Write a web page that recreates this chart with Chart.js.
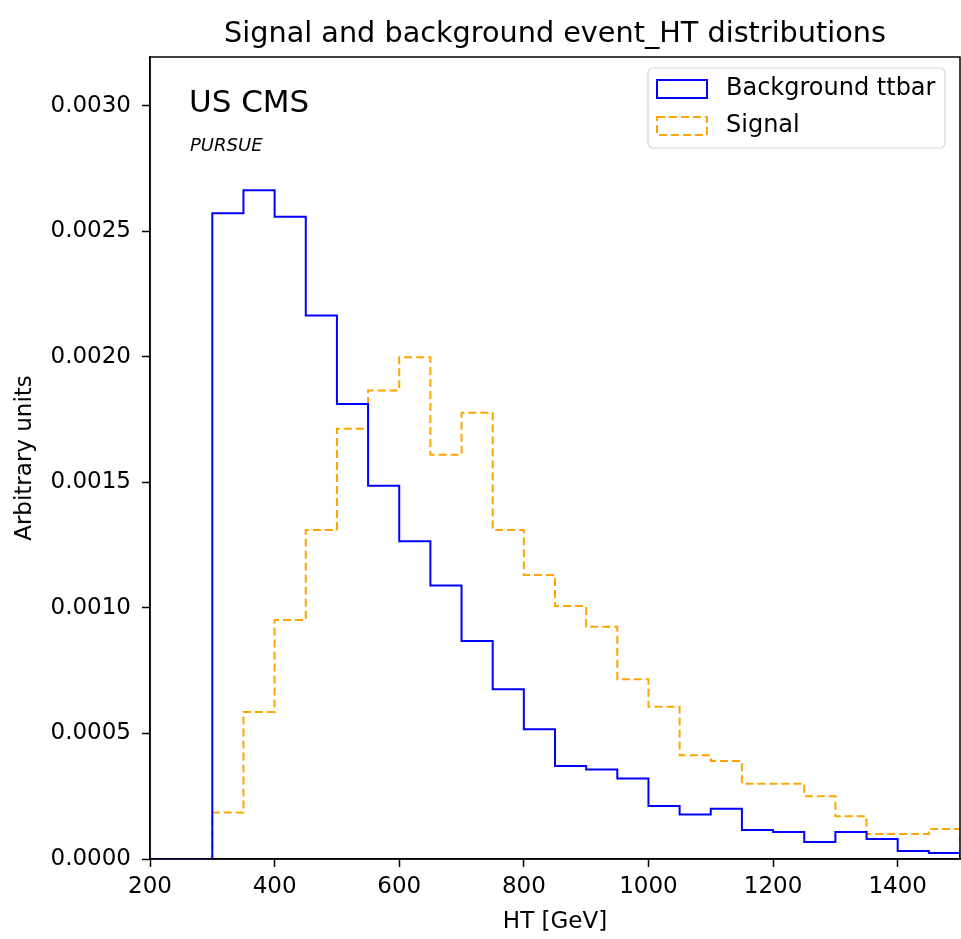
<!DOCTYPE html>
<html>
<head>
<meta charset="utf-8">
<script src="https://cdn.jsdelivr.net/npm/chart.js@4/dist/chart.umd.min.js"></script>
<style>
  html, body { margin: 0; padding: 0; background: #fff; }
  #wrap { width: 961px; height: 939px; }
</style>
</head>
<body>
<div id="wrap"><canvas id="hist" width="961" height="939"></canvas></div>
<script>
// HT bin edges (GeV), 50 GeV wide
const binEdges = [200, 250, 300, 350, 400, 450, 500, 550, 600, 650, 700, 750, 800,
  850, 900, 950, 1000, 1050, 1100, 1150, 1200, 1250, 1300, 1350, 1400, 1450, 1500];

// normalised bin contents, one per bin
const backgroundTtbar = [0, 0, 0.002573, 0.002664, 0.002559, 0.002165, 0.001813, 0.001487,
  0.001266, 0.00109, 0.000868, 0.000676, 0.000517, 0.00037, 0.000357, 0.000321,
  0.000211, 0.000177, 0.0002, 0.000116, 0.000108, 0.000068, 0.000108, 0.00008,
  0.000032, 0.000024];
const signal = [0, 0, 0.000185, 0.000586, 0.000952, 0.001311, 0.001714, 0.001866,
  0.001999, 0.00161, 0.001778, 0.001311, 0.001131, 0.001008, 0.000925, 0.000716,
  0.000607, 0.000413, 0.00039, 0.0003, 0.0003, 0.00025, 0.00017, 0.0001,
  0.0001, 0.00012];

const xTicks = [200, 400, 600, 800, 1000, 1200, 1400];
const yTicks = [0, 0.0005, 0.001, 0.0015, 0.002, 0.0025, 0.003];

const FONT = 'DejaVu Sans';

// step outline: each bin value held from its left edge to the next edge
function stepPoints(vals) {
  const pts = vals.map((v, i) => ({ x: binEdges[i], y: v }));
  const last = binEdges[binEdges.length - 1];
  pts.push({ x: last, y: vals[vals.length - 1] });
  pts.push({ x: last, y: 0 });
  return pts;
}

// frame, title, CMS text and legend
const decorations = {
  id: 'decorations',
  afterDraw(chart) {
    const { ctx, chartArea: a } = chart;
    ctx.save();
    ctx.strokeStyle = '#000';
    ctx.lineWidth = 1.5;
    ctx.strokeRect(a.left, a.top, a.right - a.left, a.bottom - a.top);

    ctx.fillStyle = '#000';
    ctx.textAlign = 'center';
    ctx.textBaseline = 'alphabetic';
    ctx.font = '28.7px "' + FONT + '"';
    ctx.fillText('Signal and background event_HT distributions', (a.left + a.right) / 2, 42);

    ctx.textAlign = 'left';
    ctx.font = '31px "' + FONT + '"';
    ctx.fillText('US CMS', 189, 112);
    ctx.font = 'italic 18px "' + FONT + '"';
    ctx.fillText('PURSUE', 190, 151);

    // legend
    const lx = 648, ly = 68, lw = 297, lh = 80;
    ctx.fillStyle = 'rgba(255,255,255,0.8)';
    ctx.strokeStyle = '#d6d6d6';
    ctx.lineWidth = 1.2;
    ctx.beginPath();
    ctx.roundRect(lx, ly, lw, lh, 5);
    ctx.fill();
    ctx.stroke();

    ctx.font = '24px "' + FONT + '"';
    ctx.textBaseline = 'middle';
    chart.data.datasets.forEach((ds, i) => {
      const cy = 89 + i * 37;
      ctx.strokeStyle = ds.borderColor;
      ctx.lineWidth = ds.borderWidth;
      ctx.setLineDash(ds.borderDash || []);
      ctx.strokeRect(657, cy - 9, 50, 18);
      ctx.setLineDash([]);
      ctx.fillStyle = '#000';
      ctx.fillText(ds.label, 726, cy);
    });
    ctx.restore();
  }
};

new Chart(document.getElementById('hist').getContext('2d'), {
  type: 'line',
  data: {
    datasets: [
      {
        label: 'Background ttbar',
        data: stepPoints(backgroundTtbar),
        borderColor: '#0000ff',
        borderWidth: 2,
        stepped: true,
        fill: false,
        pointRadius: 0
      },
      {
        label: 'Signal',
        data: stepPoints(signal),
        borderColor: '#ffa500',
        borderWidth: 2,
        borderDash: [8, 4],
        stepped: true,
        fill: false,
        pointRadius: 0
      }
    ]
  },
  options: {
    responsive: false,
    animation: false,
    layout: { padding: { top: 57, right: 1, left: 0, bottom: 0 } },
    plugins: {
      legend: { display: false },
      title: { display: false },
      tooltip: { enabled: false }
    },
    scales: {
      x: {
        type: 'linear',
        min: 200,
        max: 1500,
        afterFit(scale) { scale.height = 80; },
        afterBuildTicks(scale) { scale.ticks = xTicks.map(v => ({ value: v })); },
        ticks: {
          color: '#000',
          font: { family: FONT, size: 23 },
          padding: 6,
          maxRotation: 0,
          autoSkip: false,
          callback: v => String(v)
        },
        grid: {
          drawOnChartArea: false,
          drawTicks: true,
          tickLength: 8,
          tickColor: '#000',
          tickWidth: 1.5
        },
        border: { display: true, color: '#000', width: 1.5 },
        title: {
          display: true,
          text: 'HT [GeV]',
          color: '#000',
          font: { family: FONT, size: 23 },
          padding: { top: 0, bottom: 3 }
        }
      },
      y: {
        type: 'linear',
        min: 0,
        max: 0.003195,
        afterFit(scale) { scale.width = 150; },
        afterBuildTicks(scale) { scale.ticks = yTicks.map(v => ({ value: v })); },
        ticks: {
          color: '#000',
          font: { family: FONT, size: 23 },
          padding: 11,
          autoSkip: false,
          callback: v => v.toFixed(4)
        },
        grid: {
          drawOnChartArea: false,
          drawTicks: true,
          tickLength: 8,
          tickColor: '#000',
          tickWidth: 1.5
        },
        border: { display: true, color: '#000', width: 1.5 },
        title: {
          display: true,
          text: 'Arbitrary units',
          color: '#000',
          font: { family: FONT, size: 23 },
          padding: { top: 11, bottom: 0 }
        }
      }
    }
  },
  plugins: [decorations]
});
</script>
</body>
</html>
